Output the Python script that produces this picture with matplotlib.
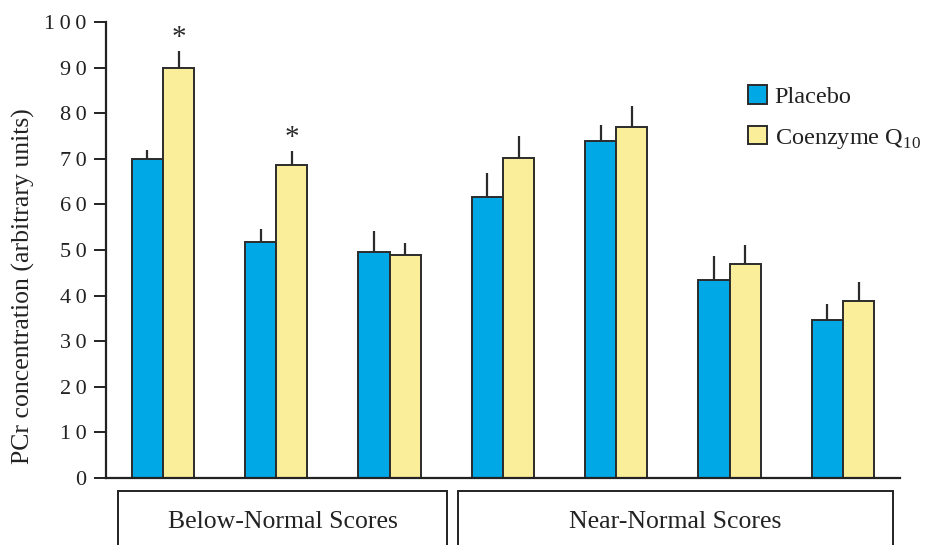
import matplotlib.pyplot as plt
from matplotlib.patches import Rectangle
import numpy as np

plt.rcParams['font.family'] = ['Liberation Serif', 'DejaVu Serif']
plt.rcParams['mathtext.fontset'] = 'custom'
plt.rcParams['mathtext.rm'] = 'Liberation Serif'

# PCr values per subgroup, placebo vs coenzyme Q10
placebo = [70.0, 51.7, 49.6, 61.6, 73.9, 43.4, 34.7]
placebo_err = [1.9, 3.0, 4.5, 5.2, 3.6, 5.2, 3.5]
coq10 = [90.0, 68.7, 49.0, 70.1, 76.9, 47.0, 38.8]
coq10_err = [3.6, 3.0, 2.5, 4.9, 4.7, 4.0, 4.2]
significant = [0, 1]          # groups marked with *

groups = ["Below-Normal Scores", "Near-Normal Scores"]
group_span = [(-0.40, 2.51), (2.60, 6.44)]

blue = "#00a8e6"
yellow = "#fbee9a"
edge = "#2b2b2b"

fig = plt.figure(figsize=(9.36, 5.45), dpi=100)
ax = fig.add_axes([0.1132, 0.1229, 0.8483, 0.8367])

x = np.arange(len(placebo))
w = 0.275

ax.bar(x - w / 2, placebo, w, color=blue, edgecolor=edge, linewidth=1.4,
       label="Placebo", zorder=2)
ax.bar(x + w / 2, coq10, w, color=yellow, edgecolor=edge, linewidth=1.4,
       label="Coenzyme Q$_{10}$", zorder=2)

# one-sided error bars, no caps
ax.errorbar(x - w / 2, placebo, yerr=[np.zeros(len(x)), placebo_err],
            fmt="none", ecolor=edge, elinewidth=1.6, capsize=0, zorder=1)
ax.errorbar(x + w / 2, coq10, yerr=[np.zeros(len(x)), coq10_err],
            fmt="none", ecolor=edge, elinewidth=1.6, capsize=0, zorder=1)

for i in significant:
    ax.annotate("*", (x[i] + w / 2, coq10[i] + coq10_err[i]),
                xytext=(0, 0), textcoords="offset points",
                ha="center", va="bottom", fontsize=21, color=edge)

ax.set_xlim(-0.503, 6.503)
ax.set_ylim(0, 100)
ax.set_xticks([])
ax.set_yticks(range(0, 101, 10))
ax.set_yticklabels(["\u2009".join(str(v)) for v in range(0, 101, 10)])
ax.tick_params(axis="y", direction="out", length=9, width=1.4,
               labelsize=16, pad=5, colors="#222222")
ax.set_ylabel("PCr concentration (arbitrary units)", fontsize=18.5,
              color="#222222")
ax.yaxis.set_label_coords(-0.089, 0.42)

for s in ["top", "right"]:
    ax.spines[s].set_visible(False)
for s in ["left", "bottom"]:
    ax.spines[s].set_linewidth(1.6)
    ax.spines[s].set_color("#222222")

# boxed group captions under the axis
trans = ax.get_xaxis_transform()
for name, (x0, x1) in zip(groups, group_span):
    ax.add_patch(Rectangle((x0, -0.25), x1 - x0, 0.222, transform=trans,
                           fill=False, edgecolor="#222222", linewidth=1.4,
                           clip_on=False))
    ax.text((x0 + x1) / 2, -0.097, name, transform=trans, ha="center",
            va="center", fontsize=18.5, color="#222222")

leg = ax.legend(loc="upper left", bbox_to_anchor=(0.781, 0.91), frameon=False,
                fontsize=17.5, handlelength=0.8, handleheight=0.8,
                handletextpad=0.3, labelspacing=0.75)
for t in leg.get_texts():
    t.set_color("#222222")

fig.savefig("out.png", dpi=100)
